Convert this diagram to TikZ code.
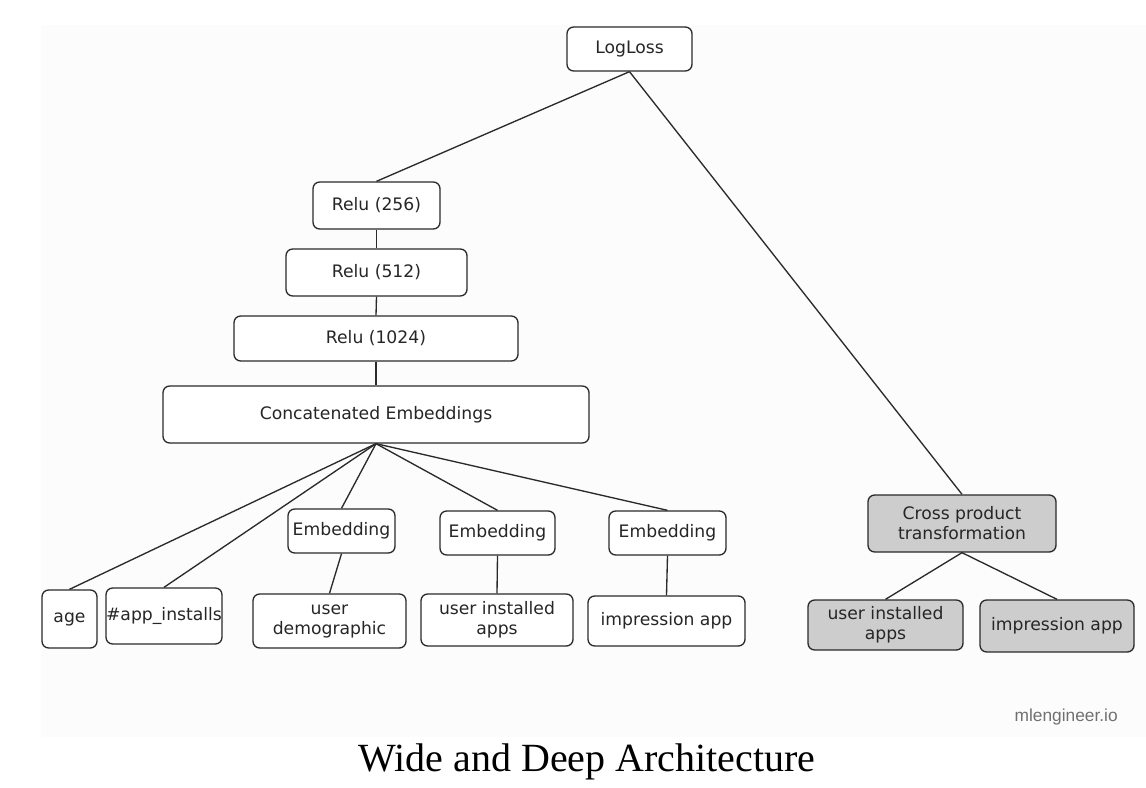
\documentclass[tikz,border=0pt]{standalone}
\usepackage{fontspec}
\setmainfont{Liberation Serif}
\newfontfamily\boxfont{DejaVu Sans}
\newfontfamily\markfont{Liberation Sans}
\definecolor{bgpanel}{HTML}{FCFCFC}
\definecolor{edgecol}{HTML}{2A2A2A}
\definecolor{wideFill}{HTML}{CDCDCD}
\definecolor{markcol}{HTML}{707070}
\begin{document}
\begin{tikzpicture}[x=0.75pt,y=-0.75pt,
  box/.style={draw=edgecol, line width=1pt, rounded corners=5pt, fill=white,
    inner sep=0pt, align=center, font=\boxfont\fontsize{12.9}{15}\selectfont, text=black!85},
  widebox/.style={box, fill=wideFill},
  link/.style={draw=edgecol, line width=1pt}]
\useasboundingbox (0,0) rectangle (1146,788);
\fill[bgpanel] (41,25) rectangle (1146,737);

% deep part
\node[box, minimum width=93.75pt, minimum height=33pt] (logloss) at (629.5,49) {LogLoss};
\node[box, minimum width=95.25pt, minimum height=35.25pt] (r256) at (376.5,205.5) {Relu (256)};
\node[box, minimum width=135.75pt, minimum height=35.25pt] (r512) at (376.5,272.5) {Relu (512)};
\node[box, minimum width=213pt, minimum height=33.75pt] (r1024) at (376,338.5) {Relu (1024)};
\node[box, minimum width=319.5pt, minimum height=42.75pt] (concat) at (376,414.5) {Concatenated Embeddings};

\node[box, minimum width=41.25pt, minimum height=43.5pt] (age) at (69.5,619) {age};
\node[box, minimum width=87pt, minimum height=42pt] (ninst) at (164,616) {\#app\_installs};
\node[box, minimum width=80.25pt, minimum height=33pt] (embA) at (341.5,531) {Embedding};
\node[box, minimum width=114.75pt, minimum height=40.5pt] (demo) at (329.5,621) {user\\demographic};
\node[box, minimum width=86.25pt, minimum height=33pt] (embB) at (497.5,533) {Embedding};
\node[box, minimum width=114pt, minimum height=39pt] (uia) at (497,620) {user installed\\apps};
\node[box, minimum width=87.75pt, minimum height=33pt] (embC) at (667.5,533) {Embedding};
\node[box, minimum width=117.75pt, minimum height=37.5pt] (imp) at (666.5,621) {impression app};

% wide part
\node[widebox, minimum width=141pt, minimum height=42.75pt] (cross) at (962,523.5) {Cross product\\transformation};
\node[widebox, minimum width=116.25pt, minimum height=37.5pt] (uiaW) at (885.5,625) {user installed\\apps};
\node[widebox, minimum width=115.5pt, minimum height=39pt] (impW) at (1057,626) {impression app};

% connectors
\draw[link] (logloss.south) -- (r256.north);
\draw[link] (logloss.south) -- (cross.north);
\draw[link] (r256.south) -- (r512.north);
\draw[link] (r512.south) -- (r1024.north);
\draw[link] (r1024.south) -- (concat.north);
\draw[link] (concat.south) -- (age.north);
\draw[link] (concat.south) -- (ninst.north);
\draw[link] (concat.south) -- (embA.north);
\draw[link] (concat.south) -- (embB.north);
\draw[link] (concat.south) -- (embC.north);
\draw[link] (embA.south) -- (demo.north);
\draw[link] (embB.south) -- (uia.north);
\draw[link] (embC.south) -- (imp.north);
\draw[link] (cross.south) -- (uiaW.north);
\draw[link] (cross.south) -- (impW.north);

% texts
\node[anchor=east, inner sep=0pt, text=markcol, font=\markfont\fontsize{13}{15}\selectfont] (mark) at (1118,717) {mlengineer.io};
\node[inner sep=0pt, font=\fontsize{30}{34}\selectfont] (title) at (587,762) {Wide and Deep Architecture};
\end{tikzpicture}
\end{document}
